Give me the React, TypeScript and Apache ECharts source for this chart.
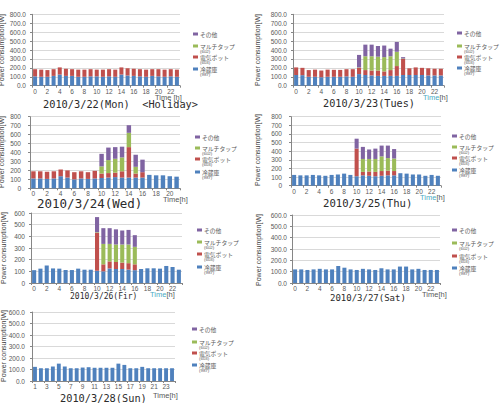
import React, { useEffect, useRef } from 'react';
import * as echarts from 'echarts';

// ---- categories ----
const HOURS_24 = ['0','1','2','3','4','5','6','7','8','9','10','11','12','13','14','15','16','17','18','19','20','21','22','23'];
const HOURS_22 = ['0','1','2','3','4','5','6','7','8','9','10','11','12','13','14','15','16','17','18','19','20','21'];
const HOURS_SUN = ['1','2','3','4','5','6','7','8','9','10','11','12','13','14','15','16','17','18','19','20','21','22','23','24'];

const NAMES = ['冷蔵庫', '電気ポット', 'マルチタップ', 'その他'];
const SUBS = ['(987)', '(603)', '(602)', ''];
const COLORS = ['#4F81BD', '#C0504D', '#9BBB59', '#8064A2'];

// ---- 2010/3/22 Mon ----
const MON_FRIDGE = [105,100,100,110,125,110,110,100,100,105,105,100,105,100,125,115,110,105,100,110,105,100,105,100];
const MON_POT = [80,80,75,75,80,80,75,80,80,80,75,80,80,80,80,80,80,80,80,75,80,80,80,80];

// ---- 2010/3/23 Tue ----
const TUE_FRIDGE = [120,118,100,100,95,100,100,100,105,100,130,120,115,110,110,110,110,120,120,120,120,115,115,115];
const TUE_POT = [85,82,75,80,75,80,78,77,80,85,70,55,55,60,50,65,110,180,75,85,80,80,75,75];
const TUE_TAP = [0,0,0,0,0,0,0,0,0,0,5,155,160,155,160,155,160,5,0,0,0,0,0,0];
const TUE_OTHER = [0,0,0,0,0,0,0,0,0,0,140,130,130,120,130,85,110,15,0,0,0,0,0,0];

// ---- 2010/3/24 Wed ----
const WED_FRIDGE = [110,110,105,110,135,120,100,110,105,110,115,120,125,120,120,120,120,150,145,145,135,130];
const WED_POT = [80,80,80,80,75,80,80,80,75,85,50,50,50,70,340,45,60,0,0,0,0,0];
const WED_TAP = [0,0,0,0,0,0,0,0,0,0,80,145,155,155,160,75,0,0,0,0,0,0];
const WED_OTHER = [0,0,0,0,0,0,0,0,0,0,140,140,130,120,85,135,140,0,0,0,0,0];

// ---- 2010/3/25 Thu ----
const THU_FRIDGE = [125,120,120,125,120,115,125,130,140,125,110,120,115,110,115,120,120,145,140,130,130,115,125,115];
const THU_POT = [0,0,0,0,0,0,0,0,0,0,320,40,50,50,55,55,50,0,0,0,0,0,0,0];
const THU_TAP = [0,0,0,0,0,0,0,0,0,0,0,150,145,150,170,145,145,0,0,0,0,0,0,0];
const THU_OTHER = [0,0,0,0,0,0,0,0,0,0,115,140,110,120,125,145,110,0,0,0,0,0,0,0];

// ---- 2010/3/26 Fri ----
const FRI_FRIDGE = [110,123,150,125,123,111,111,123,114,114,105,100,125,120,120,115,110,120,126,126,123,146,137,114];
const FRI_POT = [0,0,0,0,0,0,0,0,0,0,325,60,60,60,55,55,50,0,0,0,0,0,0,0];
const FRI_TAP = [0,0,0,0,0,0,0,0,0,0,5,175,150,150,155,160,150,0,0,0,0,0,0,0];
const FRI_OTHER = [0,0,0,0,0,0,0,0,0,0,130,135,135,130,120,125,100,0,0,0,0,0,0,0];

// ---- 2010/3/27 Sat ----
const SAT_FRIDGE = [120,120,115,120,125,120,120,150,135,120,115,125,120,115,130,120,120,145,145,120,125,115,115,115];

// ---- 2010/3/28 Sun ----
const SUN_FRIDGE = [123,111,111,126,151,126,111,111,117,120,115,115,115,115,151,140,111,111,123,111,111,111,111,111];

type Panel = {
  cats: string[];
  data: (number[] | null)[];
  max: number;
  decimals: boolean;
  grid: { left: number; top: number; width: number; height: number };
  labelMargin: number;
  title: string;
  titleX: number;
  titleY: number;
  titleSize: number;
  timeTeal: boolean;
  timeText: string;
  timeX: number;
  timeY: number;
  yTitleX: number;
  yTitleY: number;
  legendX: number;
  legendY: number[];
};

const PANELS: Panel[] = [
  {
    cats: HOURS_24, data: [MON_FRIDGE, MON_POT, null, null], max: 800, decimals: true,
    grid: { left: 32, top: 14.3, width: 148, height: 71.4 }, labelMargin: 6,
    title: '2010/3/22(Mon)  <Holiday>', titleX: 43, titleY: 103.5, titleSize: 10.3,
    timeTeal: false, timeText: 'Time [h]', timeX: 155, timeY: 97,
    yTitleX: 1.5, yTitleY: 50, legendX: 193, legendY: [34, 46, 57, 69],
  },
  {
    cats: HOURS_24, data: [TUE_FRIDGE, TUE_POT, TUE_TAP, TUE_OTHER], max: 800, decimals: true,
    grid: { left: 293, top: 14.3, width: 151, height: 71.4 }, labelMargin: 6,
    title: '2010/3/23(Tues)', titleX: 323, titleY: 103.5, titleSize: 10.2,
    timeTeal: true, timeText: 'Time[h]', timeX: 423, timeY: 97,
    yTitleX: 257, yTitleY: 50, legendX: 457, legendY: [33, 46, 57, 68],
  },
  {
    cats: HOURS_22, data: [WED_FRIDGE, WED_POT, WED_TAP, WED_OTHER], max: 800, decimals: false,
    grid: { left: 30, top: 116.7, width: 150, height: 71.6 }, labelMargin: 9,
    title: '2010/3/24(Wed)', titleX: 37, titleY: 203, titleSize: 12.5,
    timeTeal: false, timeText: 'Time[h]', timeX: 163, timeY: 199.5,
    yTitleX: 1.5, yTitleY: 152, legendX: 195, legendY: [137, 148, 159, 172],
  },
  {
    cats: HOURS_24, data: [THU_FRIDGE, THU_POT, THU_TAP, THU_OTHER], max: 800, decimals: false,
    grid: { left: 291, top: 116.7, width: 150, height: 69 }, labelMargin: 9,
    title: '2010/3/25(Thu)', titleX: 323, titleY: 203, titleSize: 10.6,
    timeTeal: true, timeText: 'Time[h]', timeX: 420, timeY: 197,
    yTitleX: 257, yTitleY: 150, legendX: 452, legendY: [136, 147, 158, 170],
  },
  {
    cats: HOURS_24, data: [FRI_FRIDGE, FRI_POT, FRI_TAP, FRI_OTHER], max: 600, decimals: false,
    grid: { left: 31, top: 213, width: 151, height: 70 }, labelMargin: 6,
    title: '2010/3/26(Fir)', titleX: 70, titleY: 296.5, titleSize: 8,
    timeTeal: true, timeText: 'Time[h]', timeX: 150, timeY: 294,
    yTitleX: 3, yTitleY: 248, legendX: 197, legendY: [230, 242, 254, 267],
  },
  {
    cats: HOURS_24, data: [SAT_FRIDGE, null, null, null], max: 600, decimals: true,
    grid: { left: 292, top: 215, width: 148, height: 68 }, labelMargin: 5,
    title: '2010/3/27(Sat)', titleX: 330, titleY: 297.5, titleSize: 9,
    timeTeal: false, timeText: 'Time[h]', timeX: 422, timeY: 294,
    yTitleX: 258, yTitleY: 250, legendX: 452, legendY: [230, 243, 256, 268],
  },
  {
    cats: HOURS_SUN, data: [SUN_FRIDGE, null, null, null], max: 600, decimals: true,
    grid: { left: 32, top: 312, width: 143, height: 69 }, labelMargin: 7,
    title: '2010/3/28(Sun)', titleX: 60, titleY: 398, titleSize: 10.3,
    timeTeal: false, timeText: 'Time[h]', timeX: 153, timeY: 395,
    yTitleX: 3, yTitleY: 346, legendX: 192, legendY: [329, 342, 353, 365],
  },
];

const LABEL_COLOR = '#595959';
const SANS = 'Liberation Sans, Arial, sans-serif';
const JP = 'Noto Sans CJK JP, sans-serif';

function buildOption(): echarts.EChartsOption {
  const grids: any[] = [];
  const xAxes: any[] = [];
  const yAxes: any[] = [];
  const series: any[] = [];
  const graphics: any[] = [];

  PANELS.forEach((p, i) => {
    grids.push({ ...p.grid, containLabel: false });
    xAxes.push({
      type: 'category', gridIndex: i, data: p.cats,
      axisLine: { lineStyle: { color: '#868686', width: 1 } },
      axisTick: { show: true, alignWithLabel: false, length: 2, lineStyle: { color: '#868686' } },
      axisLabel: { interval: 1, fontSize: 6.5, color: LABEL_COLOR, margin: 2, fontFamily: SANS },
      splitLine: { show: false },
    });
    yAxes.push({
      type: 'value', gridIndex: i, min: 0, max: p.max, interval: 100,
      axisLine: { show: true, lineStyle: { color: '#868686', width: 1 } },
      axisTick: { show: true, length: 2, lineStyle: { color: '#868686' } },
      axisLabel: {
        fontSize: 6.5, color: LABEL_COLOR, margin: p.labelMargin, fontFamily: SANS,
        formatter: (v: number) => (p.decimals ? v.toFixed(1) : String(v)),
      },
      splitLine: { show: true, lineStyle: { color: '#D9D9D9', width: 1 } },
    });
    p.data.forEach((arr, k) => {
      if (!arr) return;
      series.push({
        type: 'bar', name: NAMES[k], stack: 'st' + i, xAxisIndex: i, yAxisIndex: i,
        data: arr, barCategoryGap: '35%', itemStyle: { color: COLORS[k] }, silent: true,
      });
    });

    // title
    graphics.push({
      type: 'text', x: p.titleX, y: p.titleY,
      style: {
        text: p.title, fontSize: p.titleSize, fontFamily: 'DejaVu Sans Mono, monospace',
        fill: '#2b2b2b', align: 'left', verticalAlign: 'middle',
      },
    });
    // Time[h]
    const tParts = p.timeText.split('[');
    graphics.push({
      type: 'text', x: p.timeX, y: p.timeY,
      style: {
        text: `{t|${tParts[0]}}{h|[${tParts[1]}}`, fontSize: 7.5, fontFamily: SANS,
        align: 'left', verticalAlign: 'middle',
        rich: {
          t: { fill: p.timeTeal ? '#4BACC6' : LABEL_COLOR, fontSize: 7.5, fontFamily: SANS },
          h: { fill: LABEL_COLOR, fontSize: 7.5, fontFamily: SANS },
        },
      },
    });
    // y title
    graphics.push({
      type: 'text', x: p.yTitleX, y: p.yTitleY, rotation: Math.PI / 2,
      style: {
        text: 'Power consumption[W]', fontSize: 7, fontFamily: 'Liberation Sans Narrow, Liberation Sans, sans-serif',
        fill: '#404040', align: 'center', verticalAlign: 'middle',
      },
    });
    // legend (top to bottom: その他, マルチタップ, 電気ポット, 冷蔵庫)
    const order = [3, 2, 1, 0];
    order.forEach((k, j) => {
      const y = p.legendY[j];
      graphics.push({
        type: 'rect', shape: { x: p.legendX, y: y - 1.5, width: 5, height: 3 },
        style: { fill: COLORS[k] },
      });
      graphics.push({
        type: 'text', x: p.legendX + 7, y,
        style: {
          text: NAMES[k], fontSize: 5.8, fontFamily: JP, fill: LABEL_COLOR,
          align: 'left', verticalAlign: 'middle', lineHeight: 5.8,
        },
      });
      if (SUBS[k]) {
        graphics.push({
          type: 'text', x: p.legendX + 7, y: y + 5.3,
          style: {
            text: SUBS[k], fontSize: 4.4, fontFamily: SANS, fill: LABEL_COLOR,
            align: 'left', verticalAlign: 'middle', lineHeight: 4.4,
          },
        });
      }
    });
  });

  return {
    animation: false,
    backgroundColor: '#ffffff',
    grid: grids,
    xAxis: xAxes,
    yAxis: yAxes,
    series,
    graphic: graphics,
  } as any;
}

export default function App() {
  const ref = useRef<HTMLDivElement>(null);
  useEffect(() => {
    if (!ref.current) return;
    const chart = echarts.init(ref.current, undefined, { renderer: 'svg' });
    chart.setOption(buildOption());
    return () => chart.dispose();
  }, []);
  return (
    <div
      ref={ref}
      style={{ position: 'absolute', left: 0, top: 0, width: 500, height: 403 }}
    />
  );
}
